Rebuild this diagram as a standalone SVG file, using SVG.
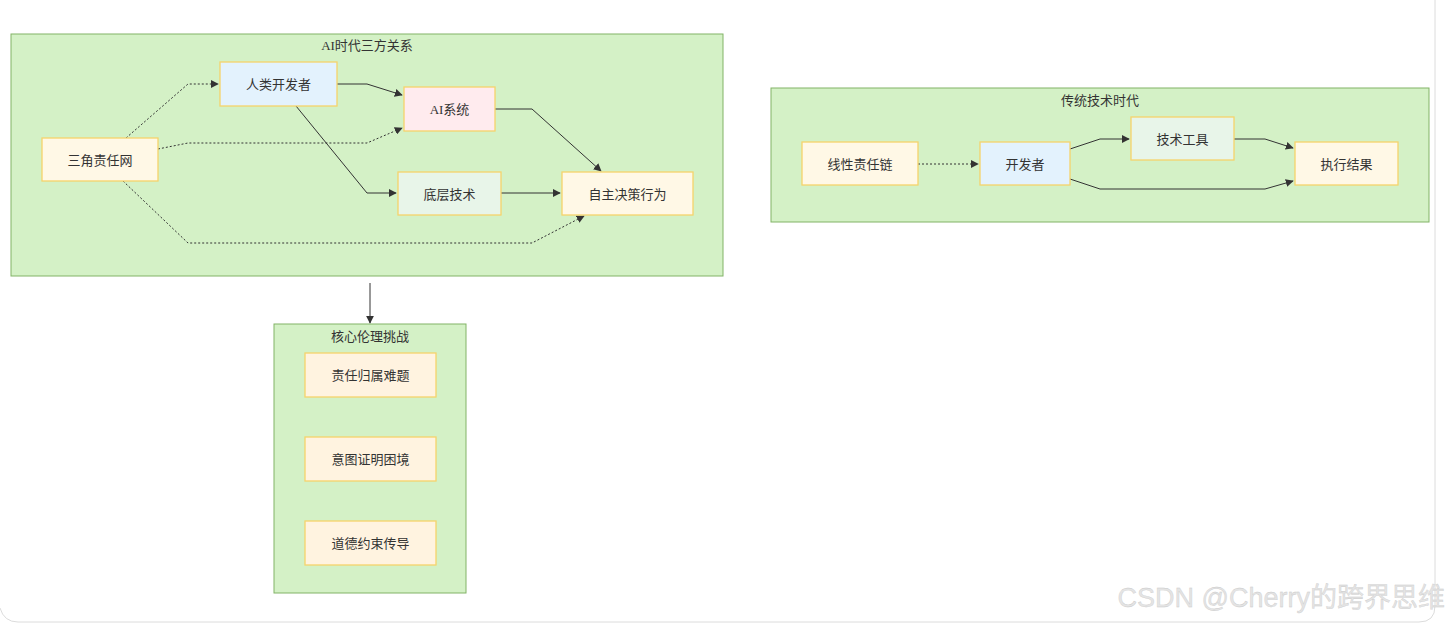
<svg xmlns="http://www.w3.org/2000/svg" width="1450" height="624" viewBox="0 0 1450 624">
<style>
.cl{fill:#d4f1c6;stroke:#82b366;stroke-width:1}
.n{stroke:#f6d36b;stroke-width:1.3}
.blue{fill:#e3f2fd}.pink{fill:#ffebee}.green{fill:#e8f5e9}.yel{fill:#fff8e6}.org{fill:#fff3e0}
.t{font-family:"Liberation Serif","Noto Sans CJK SC",serif;font-size:13px;fill:#333;text-anchor:middle;dominant-baseline:central}
.e{fill:none;stroke:#333;stroke-width:1}
.d{fill:none;stroke:#333;stroke-width:1;stroke-dasharray:2 2}
</style>
<defs>
<marker id="ah" viewBox="0 0 10 10" refX="9" refY="5" markerWidth="8" markerHeight="8" markerUnits="userSpaceOnUse" orient="auto"><path d="M0,0L10,5L0,10z" fill="#333"/></marker>
</defs>
<rect width="1450" height="624" fill="#fff"/>
<path d="M1435,0 V606 Q1435,622 1419,622 H18 Q4,622 0,608" fill="none" stroke="#dcdcdc" stroke-width="1"/>

<g id="cluster-ai">
<rect class="cl" x="11" y="34" width="712" height="242"/>
<text class="t" x="367" y="45">AI时代三方关系</text>
</g>
<g id="cluster-trad">
<rect class="cl" x="771" y="88" width="658" height="134"/>
<text class="t" x="1100" y="100">传统技术时代</text>
</g>
<g id="cluster-ethics">
<rect class="cl" x="274" y="324" width="192" height="269"/>
<text class="t" x="370" y="336">核心伦理挑战</text>
</g>

<g id="edges">
<path class="d" d="M126,138 L188,84 H218" marker-end="url(#ah)"/>
<path class="d" d="M158,149 L188,143 H367 L402,128" marker-end="url(#ah)"/>
<path class="d" d="M123,181 L188,243 H532 L584,216" marker-end="url(#ah)"/>
<path class="e" d="M337,84 H367 L402,95" marker-end="url(#ah)"/>
<path class="e" d="M296,106 L367,193 H396" marker-end="url(#ah)"/>
<path class="e" d="M495,109 H532 L601,171" marker-end="url(#ah)"/>
<path class="e" d="M501,193 H560" marker-end="url(#ah)"/>
<path class="e" d="M370,283 V323" marker-end="url(#ah)"/>
<path class="d" d="M918,164 H978" marker-end="url(#ah)"/>
<path class="e" d="M1070,149 L1100,139 H1129" marker-end="url(#ah)"/>
<path class="e" d="M1070,179 L1100,189 H1265 L1293,181" marker-end="url(#ah)"/>
<path class="e" d="M1234,139 H1265 L1293,148" marker-end="url(#ah)"/>
</g>

<g id="n-sanjiao"><rect class="n yel" x="42" y="138" width="116" height="43"/><text class="t" x="100" y="160">三角责任网</text></g>
<g id="n-renlei"><rect class="n blue" x="220" y="62" width="117" height="44"/><text class="t" x="278.5" y="84">人类开发者</text></g>
<g id="n-ai"><rect class="n pink" x="404" y="87" width="91" height="44"/><text class="t" x="449.5" y="109">AI系统</text></g>
<g id="n-diceng"><rect class="n green" x="398" y="172" width="103" height="43"/><text class="t" x="449.5" y="194">底层技术</text></g>
<g id="n-zizhu"><rect class="n yel" x="562" y="172" width="131" height="43"/><text class="t" x="627.5" y="194">自主决策行为</text></g>

<g id="n-xianxing"><rect class="n yel" x="802" y="142" width="116" height="43"/><text class="t" x="860" y="164">线性责任链</text></g>
<g id="n-kaifa"><rect class="n blue" x="980" y="142" width="90" height="43"/><text class="t" x="1025" y="164">开发者</text></g>
<g id="n-gongju"><rect class="n green" x="1131" y="117" width="103" height="43"/><text class="t" x="1182.5" y="139">技术工具</text></g>
<g id="n-jieguo"><rect class="n yel" x="1295" y="142" width="103" height="43"/><text class="t" x="1346.5" y="164">执行结果</text></g>

<g id="n-zeren"><rect class="n org" x="305" y="353" width="131" height="44"/><text class="t" x="370.5" y="375">责任归属难题</text></g>
<g id="n-yitu"><rect class="n org" x="305" y="437" width="131" height="44"/><text class="t" x="370.5" y="459">意图证明困境</text></g>
<g id="n-daode"><rect class="n org" x="305" y="521" width="131" height="44"/><text class="t" x="370.5" y="543">道德约束传导</text></g>

<text x="1445" y="598" text-anchor="end" dominant-baseline="central" font-family="Liberation Sans,'Noto Sans CJK SC',sans-serif" font-size="27" fill="#e4e4e4" stroke="#c8c8c8" stroke-width="0.3">CSDN @Cherry的跨界思维</text>
</svg>
